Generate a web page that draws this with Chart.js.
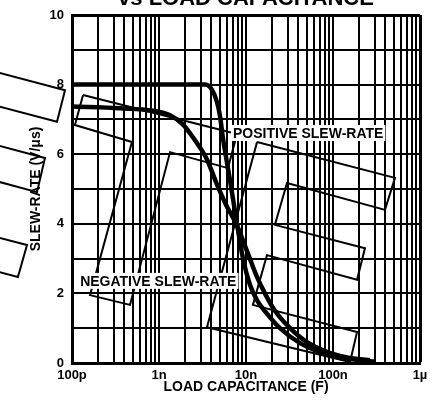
<!DOCTYPE html>
<html>
<head>
<meta charset="utf-8">
<script src="https://cdn.jsdelivr.net/npm/chart.js@4.4.0/dist/chart.umd.min.js"></script>
<style>
    html, body { margin: 0; padding: 0; background: #fff; overflow: hidden; }
    #wrap { position: absolute; left: 0; top: -14px; width: 436px; height: 426px; }
</style>
</head>
<body>
<div id="wrap"><canvas id="myChart"></canvas></div>
<script>
// load capacitance (F) and slew-rate (V/us)
const posCap = [1e-10, 3.38e-9, 4.07e-9, 4.64e-9, 5.02e-9, 5.44e-9, 6.55e-9, 7.88e-9, 9.24e-9, 1.11e-8, 1.34e-8, 1.74e-8, 2.46e-8, 4.18e-8, 9.25e-8, 2.04e-7, 3.04e-7];
const posSlew = [8.0, 8.0, 7.85, 7.5, 7.1, 6.45, 5.25, 4.0, 3.0, 2.25, 1.8, 1.42, 1.0, 0.57, 0.22, 0.08, 0.04];

const negCap = [1e-10, 3.56e-10, 8.53e-10, 1.34e-9, 1.89e-9, 2.59e-9, 3.56e-9, 4.52e-9, 5.89e-9, 7.88e-9, 1.05e-8, 1.30e-8, 1.65e-8, 2.15e-8, 3.21e-8, 5.02e-8, 1.20e-7, 2.66e-7];
const negSlew = [7.37, 7.32, 7.25, 7.12, 6.85, 6.4, 5.85, 5.2, 4.55, 3.95, 3.15, 2.55, 2.0, 1.5, 1.0, 0.6, 0.2, 0.08];

// the tilted outline boxes printed over the plot (data units)
const boxLeftCap = [6.7e-12, 8.31e-11, 6.72e-11, 6.7e-12, 6.7e-12, 4.89e-11, 3.96e-11, 6.7e-12, 6.7e-12, 3.04e-11, 2.39e-11, 6.7e-12, 6.7e-12];
const boxLeftSlew = [8.56, 7.84, 6.93, 7.59, 6.47, 5.89, 4.91, 5.43, 3.82, 3.39, 2.47, 2.84, 8.56];

const boxMidCap = [1.34e-10, 7.88e-9, 6.21e-9, 1.34e-9, 4.64e-10, 1.61e-10, 4.89e-10, 1.08e-10, 1.34e-10];
const boxMidSlew = [7.70, 6.58, 5.60, 6.06, 1.67, 1.95, 6.35, 6.84, 7.70];

const boxRightCap = [1.34e-8, 5.16e-7, 3.96e-7, 2.96e-8, 2.15e-8, 2.33e-7, 1.89e-7, 1.74e-8, 1.20e-8, 1.89e-7, 1.57e-7, 3.56e-9, 1.34e-8];
const boxRightSlew = [6.35, 5.32, 4.40, 5.17, 3.97, 3.30, 2.39, 3.10, 1.67, 0.89, 0.03, 1.03, 6.35];

const noteText = ['POSITIVE SLEW-RATE', 'NEGATIVE SLEW-RATE'];
const noteCap = [7.09e-9, 1.24e-10];
const noteSlew = [6.61, 2.36];

const xDecades = [1e-10, 1e-9, 1e-8, 1e-7];
const xTickLabels = ['100p', '1n', '10n', '100n', '1\u00b5'];
const yTickValues = [0, 1, 2, 3, 4, 5, 6, 7, 8, 9, 10];
const yTickLabels = ['0', '', '2', '', '4', '', '6', '', '8', '', '10'];

const FONT = '"Liberation Sans", Arial, sans-serif';

// grid positions 1..9 in every decade, plus the 1u end
const xTickValues = [];
xDecades.forEach(d => {
    for (let m = 1; m <= 9; m++) xTickValues.push(m * d);
});
xTickValues.push(1e-6);

function pts(xs, ys) {
    return xs.map((v, i) => ({ x: v, y: ys[i] }));
}

function curve(xs, ys) {
    return {
        data: pts(xs, ys),
        borderColor: '#000',
        borderWidth: 4.5,
        pointRadius: 0,
        cubicInterpolationMode: 'monotone',
        order: 0
    };
}

function outline(xs, ys) {
    return {
        data: pts(xs, ys),
        borderColor: '#000',
        borderWidth: 2,
        pointRadius: 0,
        tension: 0,
        clip: false,
        order: 1
    };
}

const slewLabels = {
    id: 'slewLabels',
    afterDatasetsDraw(chart) {
        const { ctx, scales: { x, y } } = chart;
        ctx.save();
        ctx.font = 'bold 14px ' + FONT;
        ctx.textAlign = 'left';
        ctx.textBaseline = 'middle';
        noteText.forEach((t, i) => {
            const px = x.getPixelForValue(noteCap[i]);
            const py = y.getPixelForValue(noteSlew[i]);
            const w = ctx.measureText(t).width;
            ctx.fillStyle = '#fff';
            ctx.fillRect(px - 2, py - 8, w + 4, 16);
            ctx.fillStyle = '#000';
            ctx.fillText(t, px, py + 1);
        });
        ctx.restore();
    }
};

const ctx = document.getElementById('myChart').getContext('2d');
const myChart = new Chart(ctx, {
    type: 'line',
    data: {
        datasets: [
            curve(posCap, posSlew),
            curve(negCap, negSlew),
            outline(boxLeftCap, boxLeftSlew),
            outline(boxMidCap, boxMidSlew),
            outline(boxRightCap, boxRightSlew)
        ]
    },
    options: {
        responsive: true,
        maintainAspectRatio: false,
        animation: false,
        layout: { padding: { left: 0, right: 16, top: 0, bottom: 0 } },
        plugins: {
            legend: { display: false },
            tooltip: { enabled: false },
            title: {
                display: true,
                text: 'vs LOAD CAPACITANCE',
                fullSize: false,
                color: '#000',
                font: { family: FONT, size: 22, weight: 'bold' },
                padding: { top: 0, bottom: 2.6 }
            }
        },
        scales: {
            x: {
                type: 'logarithmic',
                min: 1e-10,
                max: 1e-6,
                afterBuildTicks: (scale) => {
                    scale.ticks = xTickValues.map(v => ({ value: v }));
                },
                afterFit: (scale) => { scale.height = 49; },
                ticks: {
                    autoSkip: false,
                    maxRotation: 0,
                    minRotation: 0,
                    padding: 5,
                    color: '#000',
                    font: { family: FONT, size: 13, weight: 'bold' },
                    callback: (v, i) => (i % 9 === 0 ? xTickLabels[i / 9] : '')
                },
                grid: {
                    color: '#000',
                    drawTicks: false,
                    lineWidth: (c) => (c.index === xTickValues.length - 1 ? 3 : 2)
                },
                border: { color: '#000', width: 3 },
                title: {
                    display: true,
                    text: 'LOAD CAPACITANCE (F)',
                    color: '#000',
                    font: { family: FONT, size: 14, weight: 'bold' },
                    padding: { top: 0, bottom: 16.6 }
                }
            },
            y: {
                type: 'linear',
                min: 0,
                max: 10,
                afterBuildTicks: (scale) => {
                    scale.ticks = yTickValues.map(v => ({ value: v }));
                },
                afterFit: (scale) => { scale.width = 72; },
                ticks: {
                    padding: 8,
                    color: '#000',
                    font: { family: FONT, size: 13, weight: 'bold' },
                    callback: (v, i) => yTickLabels[i]
                },
                grid: {
                    color: '#000',
                    drawTicks: false,
                    lineWidth: (c) => (c.index === yTickValues.length - 1 ? 3 : 2)
                },
                border: { color: '#000', width: 3 },
                title: {
                    display: true,
                    text: 'SLEW-RATE (V/\u03bcs)',
                    color: '#000',
                    font: { family: FONT, size: 14, weight: 'bold' },
                    padding: { top: 27.6, bottom: 0 }
                }
            }
        }
    },
    plugins: [slewLabels]
});
</script>
</body>
</html>
